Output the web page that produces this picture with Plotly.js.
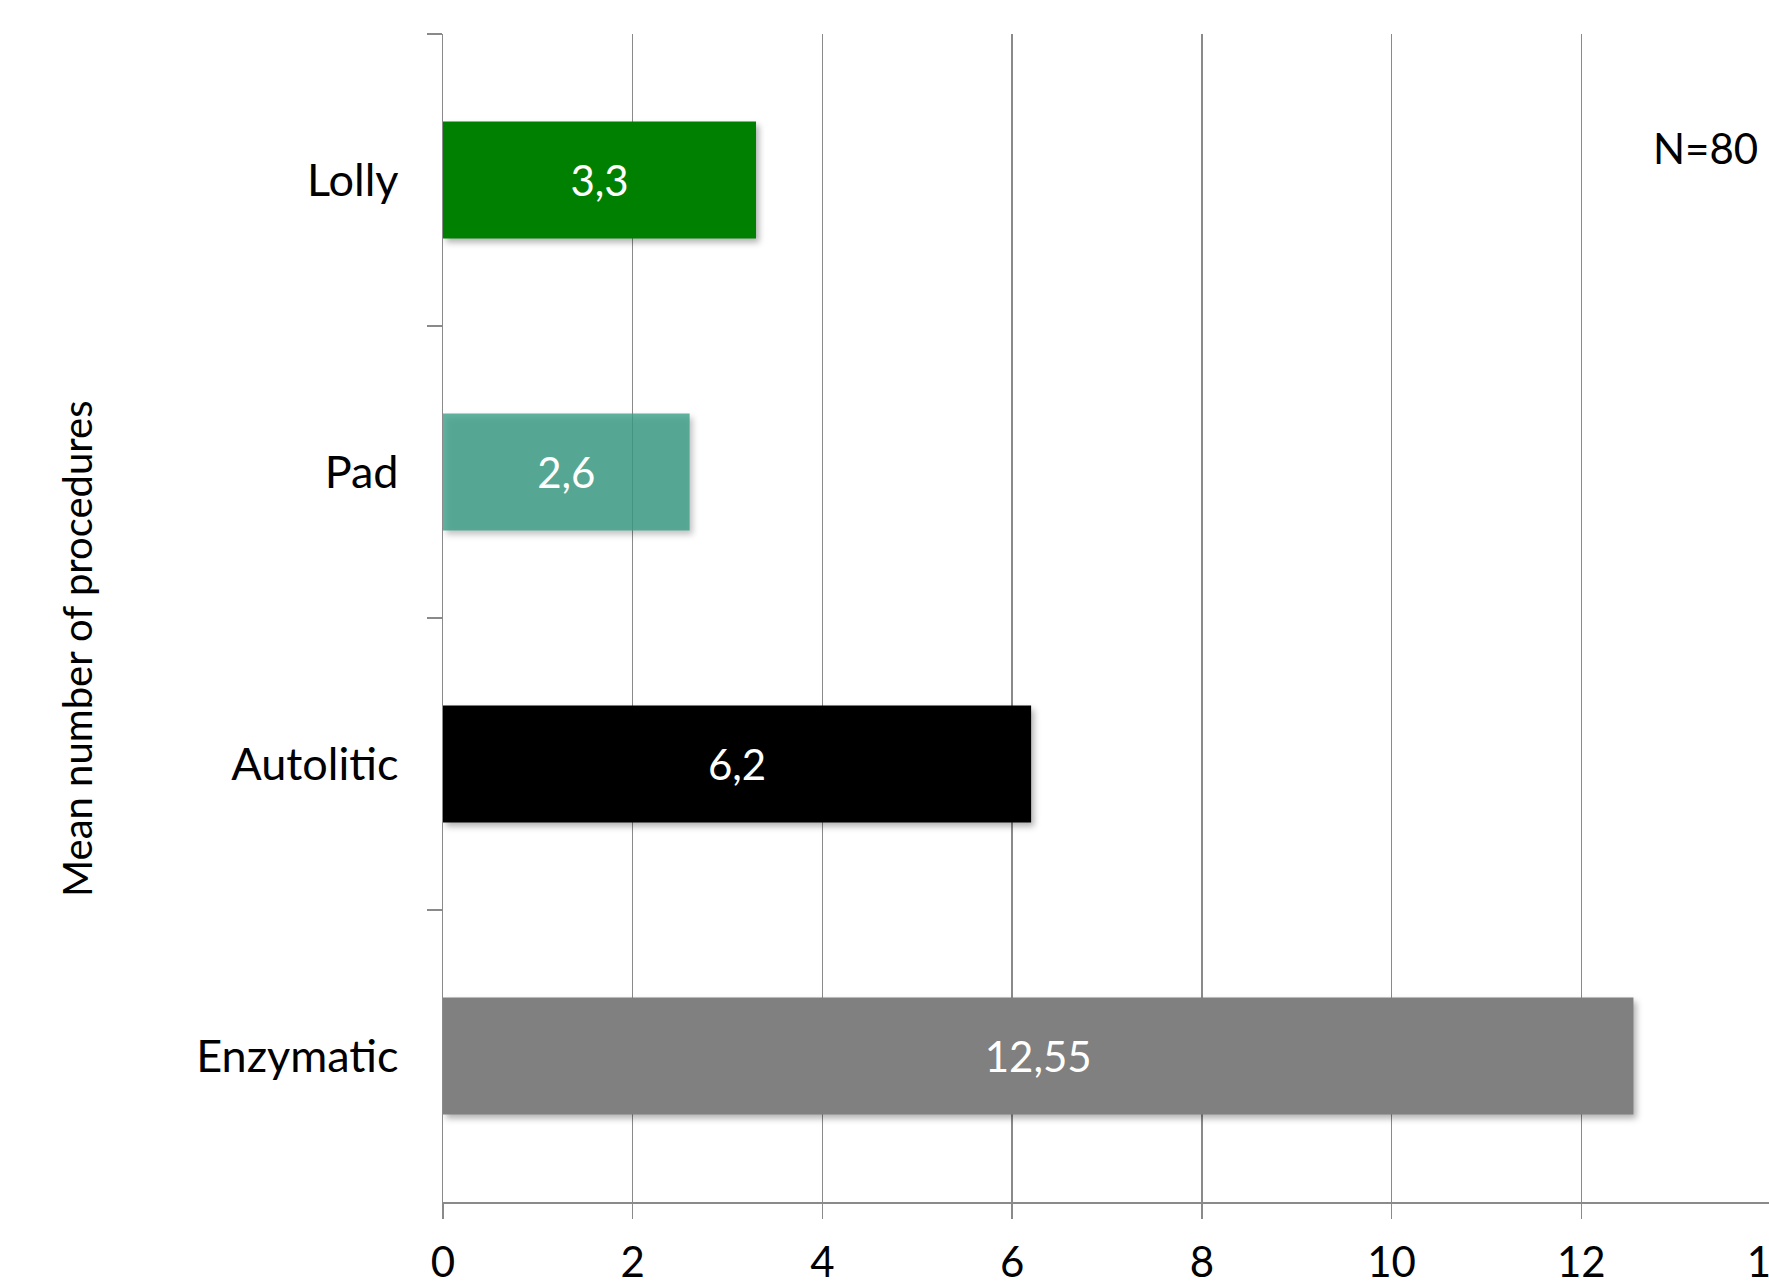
<!DOCTYPE html>
<html>
<head>
<meta charset="utf-8">
<script src="https://cdn.plot.ly/plotly-3.0.1.min.js"></script>
<style>
  html, body { margin: 0; padding: 0; background: #ffffff; overflow: hidden; }
  #chart { width: 1775px; height: 1285px; }
  /* soft drop shadow under each bar */
  #chart .trace.bars .point path { filter: drop-shadow(3px 4px 3px rgba(0,0,0,0.30)); }
</style>
</head>
<body>
<div id="chart"></div>
<script>
// Mean number of procedures per debridement method (top to bottom)
const methods = ['Lolly', 'Pad', 'Autolitic', 'Enzymatic'];
const meanProcedures = [3.3, 2.6, 6.2, 12.55];
const barColors = ['#008000', 'rgba(58,160,136,0.8)', '#000000', '#808080'];
const xTicks = [0, 2, 4, 6, 8, 10, 12, 14];
const yTitle = 'Mean number of procedures';
const sampleNote = 'N=80';

// Decimal comma labels, taken from the same values as the bars
const barLabels = meanProcedures.map(v => String(v).replace('.', ','));

const FONT = 'Lato, "Open Sans", "Noto Sans", sans-serif';
const axisGray = '#8a8a8a';

const trace = {
  type: 'bar',
  orientation: 'h',
  x: meanProcedures,
  y: methods,
  width: 0.4,
  marker: { color: barColors, line: { width: 0 } },
  text: barLabels,
  textposition: 'inside',
  insidetextanchor: 'middle',
  textangle: 0,
  textfont: { family: FONT, size: 42, color: '#ffffff' },
  hoverinfo: 'skip'
};

const layout = {
  width: 1775,
  height: 1285,
  paper_bgcolor: '#ffffff',
  plot_bgcolor: '#ffffff',
  showlegend: false,
  margin: { l: 443, r: 4, t: 34, b: 83 },
  font: { family: FONT, color: '#000000' },
  xaxis: {
    range: [0, 14],
    tickvals: xTicks,
    ticktext: xTicks.map(String),
    showgrid: true,
    gridcolor: axisGray,
    gridwidth: 1.5,
    zeroline: false,
    showline: true,
    linecolor: axisGray,
    linewidth: 1.5,
    ticks: 'outside',
    ticklen: 15,
    tickwidth: 1.5,
    tickcolor: axisGray,
    ticklabelstandoff: 8,
    ticklabeloverflow: 'allow',
    tickfont: { family: FONT, size: 42, color: '#000000' },
    layer: 'below traces'
  },
  yaxis: {
    type: 'category',
    categoryorder: 'array',
    categoryarray: methods,
    autorange: 'reversed',
    showgrid: false,
    zeroline: false,
    showline: true,
    linecolor: axisGray,
    linewidth: 1.5,
    ticks: 'outside',
    tickson: 'boundaries',
    ticklen: 15,
    tickwidth: 1.5,
    tickcolor: axisGray,
    ticklabelstandoff: 34,
    tickfont: { family: FONT, size: 45, color: '#000000' },
    automargin: false
  },
  annotations: [
    {
      // vertical axis title
      text: yTitle,
      xref: 'paper', yref: 'paper',
      x: -0.2756, y: 0.4735,
      xanchor: 'center', yanchor: 'middle',
      textangle: -90,
      showarrow: false,
      font: { family: FONT, size: 40, color: '#000000' }
    },
    {
      text: sampleNote,
      xref: 'paper', yref: 'paper',
      x: 0.951, y: 0.902,
      xanchor: 'center', yanchor: 'middle',
      showarrow: false,
      font: { family: FONT, size: 42, color: '#000000' }
    }
  ]
};

Plotly.newPlot('chart', [trace], layout, { displayModeBar: false, staticPlot: true });
</script>
</body>
</html>
